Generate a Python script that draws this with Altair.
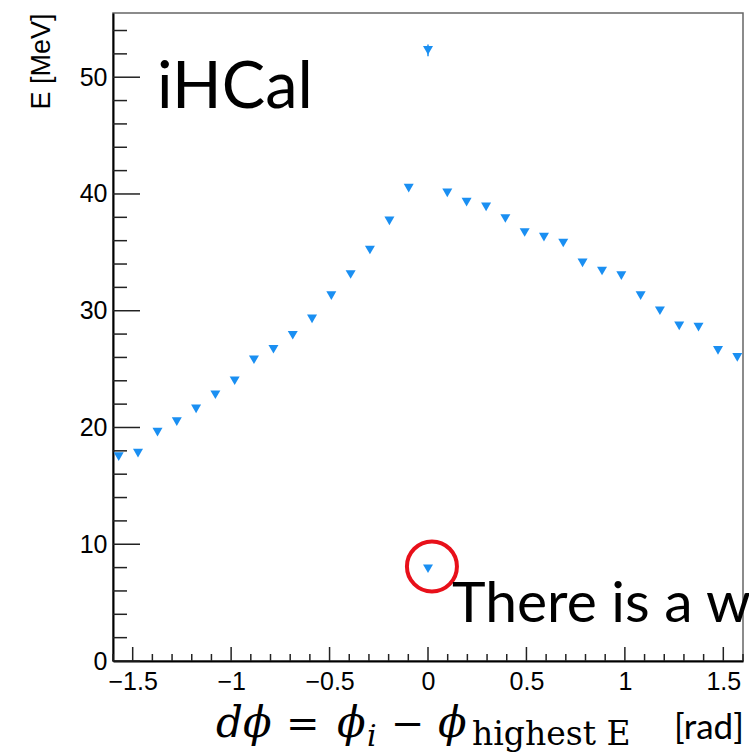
import altair as alt
import pandas as pd

# ---- data ----
dphi = [-1.571, -1.473, -1.374, -1.276, -1.178, -1.080, -0.982, -0.884,
        -0.785, -0.687, -0.589, -0.491, -0.393, -0.295, -0.196, -0.098,
        0.0, 0.0,
        0.098, 0.196, 0.295, 0.393, 0.491, 0.589, 0.687, 0.785,
        0.884, 0.982, 1.080, 1.178, 1.276, 1.374, 1.473, 1.571]
energy = [17.5, 17.8, 19.6, 20.5, 21.6, 22.8, 24.0, 25.8,
          26.7, 27.9, 29.3, 31.3, 33.1, 35.2, 37.7, 40.5,
          52.3, 7.9,
          40.1, 39.3, 38.9, 37.9, 36.7, 36.3, 35.8, 34.1,
          33.4, 33.0, 31.3, 30.0, 28.7, 28.6, 26.6, 26.0]

err_x = [0.0]
err_lo = [51.8]
err_hi = [52.8]

circle_x = [0.02]
circle_y = [8.1]

x_major = [-1.5, -1, -0.5, 0, 0.5, 1, 1.5]
x_minor = [round(-1.6 + 0.1 * i, 1) for i in range(33)]
x_minor = [v for v in x_minor if all(abs(v - m) > 1e-9 for m in x_major)]
y_major = [0, 10, 20, 30, 40, 50]
y_minor = [v for v in range(0, 56, 2) if v % 10]

title_label = ["iHCal"]
note_label = ["There is a w"]

W, H = 630, 648
BLUE = "#1a8ff2"
AXFONT = "Liberation Sans"

xscale = alt.Scale(domain=[-1.6, 1.6], nice=False, zero=False)
yscale = alt.Scale(domain=[0, 55.5], nice=False, zero=False)

x_axis = alt.Axis(values=x_major, ticks=False, grid=False, domainColor="black",
                  domainWidth=2, labelFont=AXFONT, labelFontSize=25, labelColor="black",
                  labelPadding=8,
                  labelExpr="(datum.value < 0 ? '\u2212' : '') + abs(datum.value)")
y_axis = alt.Axis(values=y_major, ticks=False, grid=False, domainColor="black",
                  domainWidth=2, labelFont=AXFONT, labelFontSize=25, labelColor="black",
                  labelPadding=6, title="E [MeV]", titleFont=AXFONT, titleFontSize=27,
                  titleFontWeight="normal", titleColor="black", titleAngle=270,
                  titleAlign="right", titleBaseline="middle", titleX=-72, titleY=0)

X = alt.X("x:Q", scale=xscale, axis=x_axis, title=None)
Y = alt.Y("y:Q", scale=yscale, axis=y_axis, title="E [MeV]")

pts_df = pd.DataFrame({"x": dphi, "y": energy})
points = alt.Chart(pts_df).mark_point(shape="triangle-down", filled=True, size=100,
                                      color=BLUE, opacity=1).encode(x=X, y=Y)

err_df = pd.DataFrame({"x": err_x, "y": err_lo, "y2": err_hi})
errbar = alt.Chart(err_df).mark_rule(color=BLUE, strokeWidth=1.5).encode(
    x=X, y=Y, y2=alt.Y2("y2:Q"))

def xticks(vals, length):
    return alt.Chart(pd.DataFrame({"x": vals})).mark_rule(
        color="#222", strokeWidth=1.5).encode(x=X, y=alt.value(H), y2=alt.value(H - length))

def yticks(vals, length):
    return alt.Chart(pd.DataFrame({"y": vals})).mark_rule(
        color="#222", strokeWidth=1.5).encode(y=Y, x=alt.value(0), x2=alt.value(length))

circle = alt.Chart(pd.DataFrame({"x": circle_x, "y": circle_y})).mark_point(
    shape="circle", filled=False, size=2500, color="#e8101a", strokeWidth=4,
    opacity=1).encode(x=X, y=Y)

def label(text, px, py, size, font="Lato", style="normal", align="left", color="black"):
    return alt.Chart(pd.DataFrame({"t": [text]})).mark_text(
        font=font, fontSize=size, fontStyle=style, align=align, baseline="alphabetic",
        color=color).encode(text="t:N", x=alt.value(px), y=alt.value(py))

SERIF = "DejaVu Serif"
BASE = 724
texts = [
    label(title_label[0], 44, 95, 65),
    label(note_label[0], 339, 609, 57),
    label("d\u03d5", 103, BASE, 42, SERIF, "italic"),
    label("=", 173, BASE, 40, SERIF),
    label("\u03d5", 224, BASE, 42, SERIF, "italic"),
    label("i", 254, BASE + 9, 30, SERIF, "italic"),
    label("\u2212", 278, BASE, 40, SERIF),
    label("\u03d5", 325, BASE, 42, SERIF, "italic"),
    label("highest E", 359, BASE + 8, 33, SERIF),
    label("[rad]", 561, BASE + 2, 35, "Lato"),
]

chart = alt.layer(
    xticks(x_minor, 7), xticks(x_major, 14),
    yticks(y_minor, 14), yticks(y_major, 27),
    errbar, points, circle, *texts
).properties(
    width=W, height=H,
    padding={"left": 113, "top": 13, "right": 6, "bottom": 92},
    autosize="none", background="white"
).configure_view(stroke="#666", strokeWidth=1.5)

chart.save("out.html", embed_options={"renderer": "svg", "actions": False})
